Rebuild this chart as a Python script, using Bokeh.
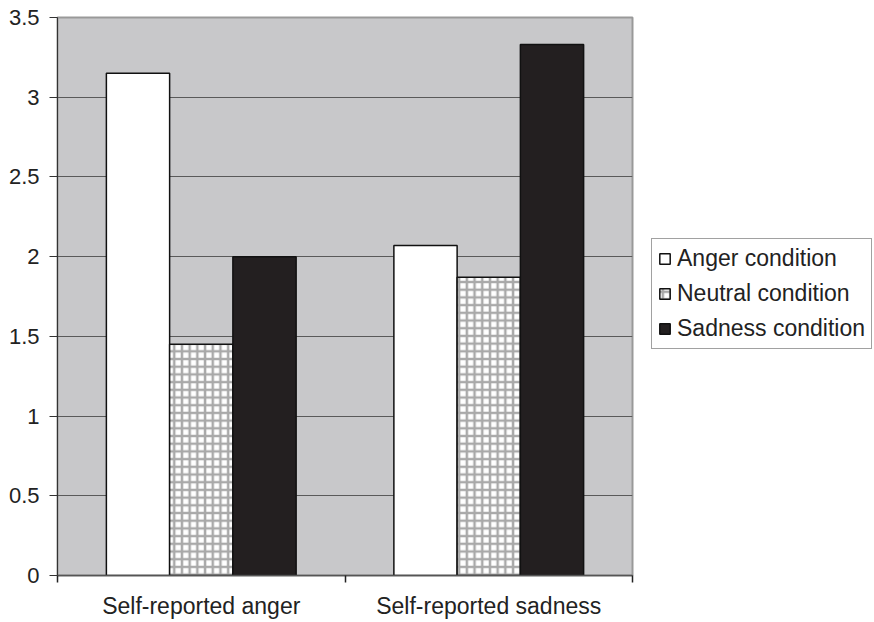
from bokeh.plotting import figure
from bokeh.models import ColumnDataSource, FixedTicker, Legend, LegendItem, Range1d, CustomJSTickFormatter
from bokeh.embed import file_html
from bokeh.resources import INLINE

# ---- data ----
groups = ["Self-reported anger", "Self-reported sadness"]
group_pos = [0.5, 1.5]
conditions = ["Anger condition", "Neutral condition", "Sadness condition"]
anger_vals = [3.15, 2.07]
neutral_vals = [1.45, 1.87]
sadness_vals = [2.0, 3.33]
y_ticks = [0, 0.5, 1, 1.5, 2, 2.5, 3, 3.5]
group_edges = [0, 1, 2]

FONT = "Liberation Sans"
FL, FR, FT, FB = 57, 632, 17, 575
W, H = 872, 620

p = figure(frame_width=FR - FL, frame_height=FB - FT, output_backend="svg", toolbar_location=None,
           x_range=Range1d(0, 2), y_range=Range1d(0, 3.5),
           min_border_left=FL, min_border_right=W - FR,
           min_border_top=FT, min_border_bottom=H - FB)
p.border_fill_color = "white"
p.background_fill_color = "#c8c8ca"
p.outline_line_color = "#999999"
p.outline_line_width = 2

bw = 0.22
offsets = [-0.22, 0.0, 0.22]
series = [anger_vals, neutral_vals, sadness_vals]
styles = [
    dict(fill_color="white"),
    dict(fill_color="white", hatch_pattern="+", hatch_color="#a9a9a9", hatch_scale=7.7, hatch_weight=2.5),
    dict(fill_color="#231f20"),
]
renderers = []
for vals, off, st in zip(series, offsets, styles):
    src = ColumnDataSource(dict(x=[g + off for g in group_pos], top=vals))
    r = p.vbar(x="x", top="top", width=bw, bottom=0, source=src,
               line_color="#111111", line_width=1.5, **st)
    renderers.append(r)

# grid
p.xgrid.visible = False
p.ygrid.ticker = FixedTicker(ticks=y_ticks)
p.ygrid.grid_line_color = "#5a5a5a"
p.ygrid.grid_line_width = 1.2

# y axis
p.yaxis.ticker = FixedTicker(ticks=y_ticks)
p.yaxis.formatter = CustomJSTickFormatter(code="return String(tick)")
p.yaxis.axis_line_color = "#333333"
p.yaxis.major_tick_line_color = "#333333"
p.yaxis.major_tick_out = 8
p.yaxis.major_tick_in = 0
p.yaxis.minor_tick_line_color = None
p.yaxis.major_label_standoff = 10
p.yaxis.major_label_text_font = FONT
p.yaxis.major_label_text_font_size = "22px"
p.yaxis.major_label_text_color = "#222222"

# x axis
p.xaxis.ticker = FixedTicker(ticks=group_pos, minor_ticks=group_edges)
p.xaxis.major_label_overrides = {g: n for g, n in zip(group_pos, groups)}
p.xaxis.axis_line_color = "#555555"
p.xaxis.axis_line_width = 1.5
p.xaxis.major_tick_out = 0
p.xaxis.major_tick_in = 0
p.xaxis.minor_tick_out = 7
p.xaxis.minor_tick_in = 0
p.xaxis.minor_tick_line_color = "#222222"
p.xaxis.minor_tick_line_width = 1.5
p.xaxis.major_label_standoff = 10
p.xaxis.major_label_text_font = FONT
p.xaxis.major_label_text_font_size = "23px"
p.xaxis.major_label_text_color = "#222222"

legend = Legend(items=[LegendItem(label=c, renderers=[r]) for c, r in zip(conditions, renderers)],
                location=(19, 226))
legend.label_text_font = FONT
legend.label_text_font_size = "23px"
legend.label_text_color = "#222222"
legend.glyph_width = 13
legend.glyph_height = 13
legend.label_standoff = 6
legend.spacing = 8
legend.padding = 6
legend.margin = 0
legend.border_line_color = "#444444"
legend.border_line_width = 1
legend.background_fill_color = "white"
legend.background_fill_alpha = 1
p.add_layout(legend, "right")

open("out.html", "w").write(file_html(p, INLINE))
